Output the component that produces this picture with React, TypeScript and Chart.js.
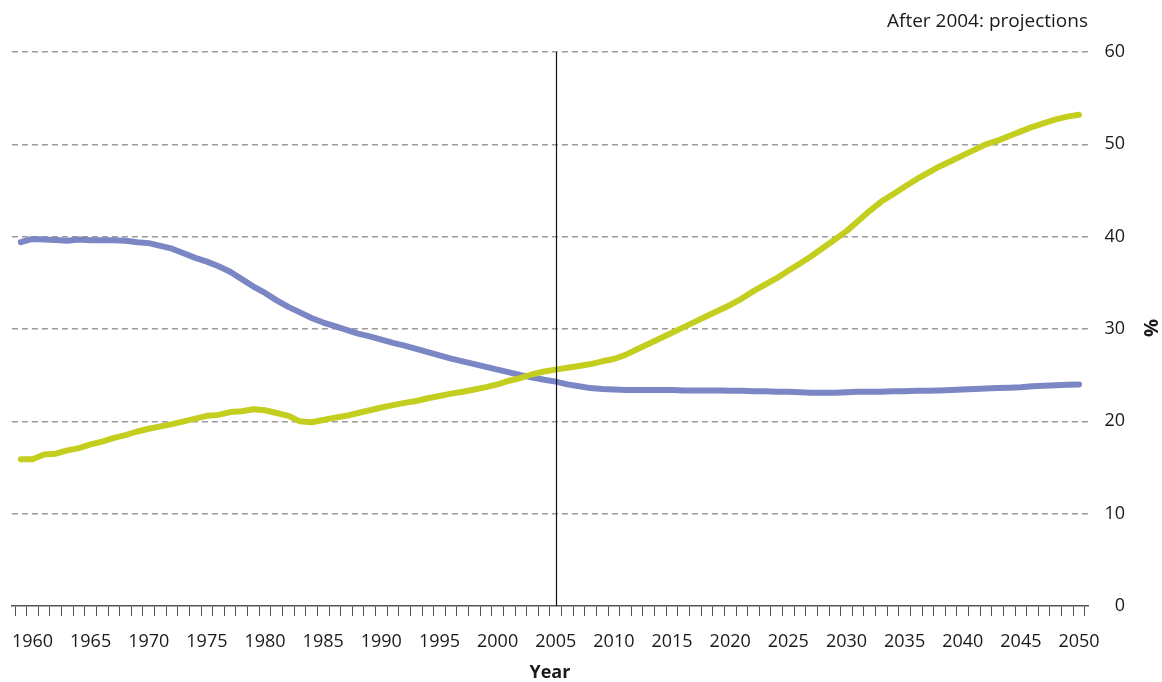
import React, { useEffect, useRef } from 'react';
import { Chart, registerables } from 'chart.js';

Chart.register(...registerables);

const FONT = "'Open Sans', 'Noto Sans', sans-serif";

const years = [
  1959, 1960, 1961, 1962, 1963, 1964, 1965, 1966, 1967, 1968, 1969,
  1970, 1971, 1972, 1973, 1974, 1975, 1976, 1977, 1978, 1979,
  1980, 1981, 1982, 1983, 1984, 1985, 1986, 1987, 1988, 1989,
  1990, 1991, 1992, 1993, 1994, 1995, 1996, 1997, 1998, 1999,
  2000, 2001, 2002, 2003, 2004, 2005, 2006, 2007, 2008, 2009,
  2010, 2011, 2012, 2013, 2014, 2015, 2016, 2017, 2018, 2019,
  2020, 2021, 2022, 2023, 2024, 2025, 2026, 2027, 2028, 2029,
  2030, 2031, 2032, 2033, 2034, 2035, 2036, 2037, 2038, 2039,
  2040, 2041, 2042, 2043, 2044, 2045, 2046, 2047, 2048, 2049, 2050,
];

// blue series
const blueValues = [
  39.4, 39.75, 39.7, 39.65, 39.55, 39.7, 39.6, 39.6, 39.6, 39.55, 39.4,
  39.3, 39.0, 38.7, 38.2, 37.7, 37.3, 36.8, 36.2, 35.4, 34.6,
  33.9, 33.1, 32.4, 31.8, 31.2, 30.7, 30.3, 29.9, 29.5, 29.2,
  28.85, 28.5, 28.2, 27.85, 27.5, 27.15, 26.8, 26.5, 26.2, 25.9,
  25.6, 25.3, 25.0, 24.75, 24.5, 24.3, 24.0, 23.8, 23.6, 23.5,
  23.45, 23.4, 23.4, 23.4, 23.4, 23.4, 23.35, 23.35, 23.35, 23.35,
  23.3, 23.3, 23.25, 23.25, 23.2, 23.2, 23.15, 23.1, 23.1, 23.1,
  23.15, 23.2, 23.2, 23.2, 23.25, 23.25, 23.3, 23.3, 23.35, 23.4,
  23.45, 23.5, 23.55, 23.6, 23.65, 23.7, 23.8, 23.85, 23.9, 23.95, 24.0,
];

// green series
const greenValues = [
  15.9, 15.9, 16.4, 16.5, 16.85, 17.1, 17.5, 17.8, 18.2, 18.5, 18.9,
  19.2, 19.45, 19.7, 20.0, 20.3, 20.6, 20.7, 21.0, 21.1, 21.3,
  21.2, 20.9, 20.6, 20.0, 19.9, 20.15, 20.4, 20.6, 20.9, 21.2,
  21.5, 21.75, 22.0, 22.2, 22.5, 22.75, 23.0, 23.2, 23.45, 23.7,
  24.0, 24.4, 24.7, 25.1, 25.4, 25.6, 25.8, 26.0, 26.2, 26.5,
  26.75, 27.2, 27.8, 28.4, 29.0, 29.6, 30.2, 30.8, 31.4, 32.0,
  32.6, 33.3, 34.1, 34.8, 35.5, 36.3, 37.1, 37.9, 38.8, 39.7,
  40.6, 41.7, 42.8, 43.8, 44.6, 45.4, 46.2, 46.9, 47.6, 48.2,
  48.8, 49.4, 50.0, 50.4, 50.9, 51.4, 51.9, 52.3, 52.7, 53.0, 53.2,
];

const xTickLabels = [
  1960, 1965, 1970, 1975, 1980, 1985, 1990, 1995, 2000, 2005,
  2010, 2015, 2020, 2025, 2030, 2035, 2040, 2045, 2050,
];
const yTicks = [0, 10, 20, 30, 40, 50, 60];
const projectionYear = 2005;
const noteText = 'After 2004: projections';
const xTitle = 'Year';
const yTitle = '%';

const GREEN = '#c4ce1f';
const BLUE = '#7b86c4';
const TEXT = '#1a1a1a';

const annotationPlugin = {
  id: 'annotations',
  afterDatasetsDraw(chart: any) {
    const { ctx, chartArea, scales } = chart;
    const x = Math.round(scales.x.getPixelForValue(projectionYear)) + 0.5;
    ctx.save();
    ctx.strokeStyle = '#111';
    ctx.lineWidth = 1.2;
    ctx.beginPath();
    ctx.moveTo(x, chartArea.top);
    ctx.lineTo(x, chartArea.bottom);
    ctx.stroke();
    ctx.font = `19px ${FONT}`;
    ctx.fillStyle = TEXT;
    ctx.textAlign = 'right';
    ctx.textBaseline = 'middle';
    ctx.fillText(noteText, chartArea.right, 22);
    // y axis title, rotated
    ctx.translate(1152, 328);
    ctx.rotate(-Math.PI / 2);
    ctx.font = `bold 20px ${FONT}`;
    ctx.fillStyle = TEXT;
    ctx.textAlign = 'center';
    ctx.fillText(yTitle, 0, 0);
    ctx.restore();
  },
};

export default function App() {
  const ref = useRef<HTMLCanvasElement>(null);
  useEffect(() => {
    if (!ref.current) return;
    const chart = new Chart(ref.current, {
      type: 'line',
      data: {
        datasets: [
          {
            label: 'green',
            data: years.map((y, i) => ({ x: y, y: greenValues[i] })),
            borderColor: GREEN,
            borderWidth: 6,
            pointRadius: 0,
            tension: 0,
            borderCapStyle: 'round',
            borderJoinStyle: 'round',
            fill: false,
          },
          {
            label: 'blue',
            data: years.map((y, i) => ({ x: y, y: blueValues[i] })),
            borderColor: BLUE,
            borderWidth: 6,
            pointRadius: 0,
            tension: 0,
            borderCapStyle: 'round',
            borderJoinStyle: 'round',
            fill: false,
          },
        ],
      },
      options: {
        animation: false,
        responsive: false,
        maintainAspectRatio: false,
        layout: { padding: { left: 11, top: 52, right: 37, bottom: 0 } },
        plugins: { legend: { display: false }, tooltip: { enabled: false } },
        scales: {
          x: {
            type: 'linear',
            min: 1958.23,
            max: 2050.77,
            afterBuildTicks: (s: any) => {
              const t: any[] = [];
              for (let v = 1958.5; v <= 2050.5; v += 1) t.push({ value: v });
              xTickLabels.forEach((v) => t.push({ value: v }));
              t.sort((a, b) => a.value - b.value);
              s.ticks = t;
            },
            afterFit: (s: any) => {
              s.height = 76;
            },
            ticks: {
              autoSkip: false,
              maxRotation: 0,
              padding: 15,
              color: TEXT,
              font: { family: FONT, size: 18 },
              callback: (v: any) => (xTickLabels.includes(v) ? String(v) : ''),
            },
            grid: {
              drawOnChartArea: false,
              drawTicks: true,
              tickLength: 10,
              tickWidth: 1,
              tickColor: (c: any) =>
                c.tick && Number.isInteger(c.tick.value) ? 'rgba(0,0,0,0)' : '#555',
            },
            border: { display: true, color: '#555', width: 1.5 },
            title: {
              display: true,
              text: xTitle,
              color: TEXT,
              padding: 0,
              font: { family: FONT, size: 18, weight: 'bold', lineHeight: 1 },
            },
          },
          y: {
            position: 'right',
            min: 0,
            max: 60,
            afterBuildTicks: (s: any) => {
              s.ticks = yTicks.map((v) => ({ value: v }));
            },
            afterFit: (s: any) => {
              s.width = 37;
            },
            ticks: {
              padding: 17,
              crossAlign: 'far',
              autoSkip: false,
              color: TEXT,
              font: { family: FONT, size: 18 },
            },
            grid: {
              drawTicks: false,
              tickLength: 0,
              color: (c: any) => (c.tick && c.tick.value === 0 ? 'rgba(0,0,0,0)' : '#9a9a9a'),
              lineWidth: 1.5,
            },
            border: { display: false, dash: [6, 4] },
            title: { display: false },
          },
        },
      },
      plugins: [annotationPlugin],
    } as any);
    return () => chart.destroy();
  }, []);

  return (
    <div style={{ position: 'fixed', left: 0, top: 0, width: 1162, height: 682, background: '#fff' }}>
      <canvas ref={ref} width={1162} height={682} style={{ display: 'block' }} />
    </div>
  );
}
